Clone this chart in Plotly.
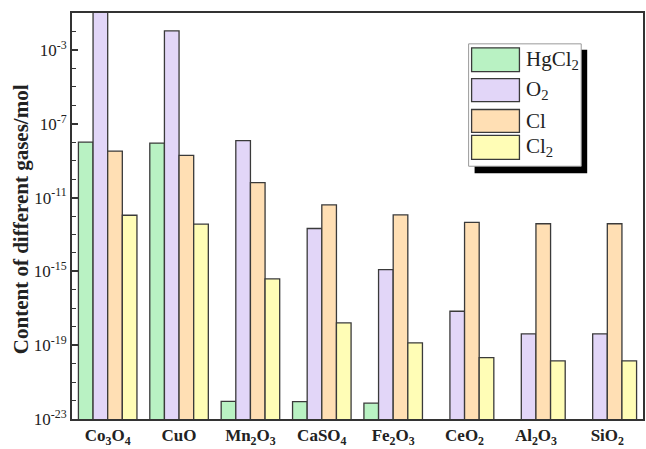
import plotly.graph_objects as go

# Sorbents and the gas-phase species computed for each (mol)
sorbents = ["Co<sub>3</sub>O<sub>4</sub>", "CuO", "Mn<sub>2</sub>O<sub>3</sub>", "CaSO<sub>4</sub>",
            "Fe<sub>2</sub>O<sub>3</sub>", "CeO<sub>2</sub>", "Al<sub>2</sub>O<sub>3</sub>", "SiO<sub>2</sub>"]
species = ["HgCl<sub>2</sub>", "O<sub>2</sub>", "Cl", "Cl<sub>2</sub>"]

hgcl2 = [1.0e-8, 9.0e-9, 9.0e-23, 8.7e-23, 7.2e-23, None, None, None]
o2 = [1.0, 1.07e-2, 1.2e-8, 2.1e-13, 1.23e-15, 6.9e-18, 4.1e-19, 4.1e-19]
cl = [3.3e-9, 1.95e-9, 6.5e-11, 4.0e-12, 1.15e-12, 4.5e-13, 3.8e-13, 3.8e-13]
cl2 = [1.1e-12, 3.6e-13, 3.9e-16, 1.6e-18, 1.35e-19, 2.1e-20, 1.4e-20, 1.4e-20]

fills = ["#B9F2C3", "#E2D6F8", "#FFDFB4", "#FFFDB6"]
edge = "#3a3a3a"
serif = "Liberation Serif, Times New Roman, serif"

W, H = 646, 449
L, R, T, B = 72, 1, 13, 28
PW, PH = W - L - R, H - T - B

fig = go.Figure()
for name, vals, color in zip(species, [hgcl2, o2, cl, cl2], fills):
    fig.add_trace(go.Bar(
        x=list(range(len(sorbents))), y=vals, name=name,
        marker=dict(color=color, line=dict(color=edge, width=1.3)),
        showlegend=False,
    ))

major = [-23, -19, -15, -11, -7, -3]
fig.update_layout(
    width=W, height=H,
    margin=dict(l=L, r=R, t=T, b=B),
    paper_bgcolor="white", plot_bgcolor="white",
    barmode="group", bargap=0.18, bargroupgap=0,
    font=dict(family=serif, color="#222"),
    xaxis=dict(
        range=[-0.5, len(sorbents) - 0.5],
        tickvals=list(range(len(sorbents))), ticktext=sorbents,
        tickfont=dict(size=17, family=serif, weight="bold", color="#222"),
        showline=True, linecolor="#333", linewidth=2, mirror=True,
        ticks="", showgrid=False, zeroline=False,
    ),
    yaxis=dict(
        type="log", range=[-23, -1],
        tickvals=[10.0 ** e for e in major],
        ticktext=[f"10<sup>{e}</sup>" for e in major],
        tickfont=dict(size=17, family=serif, color="#222"),
        ticks="inside", ticklen=6, tickwidth=1.5, tickcolor="#333",
        minor=dict(tickvals=[10.0 ** e for e in range(-23, 0)],
                   ticks="inside", ticklen=4, tickwidth=1.2, tickcolor="#333"),
        showline=True, linecolor="#333", linewidth=2, mirror=True,
        showgrid=False, zeroline=False,
    ),
)

# y-axis title
fig.add_annotation(
    x=(21 - L) / PW, y=(H - B - 220) / PH, xref="paper", yref="paper",
    text="<b>Content of different gases/mol</b>", textangle=-90,
    showarrow=False, font=dict(size=21, family=serif, color="#222"),
    xanchor="center", yanchor="middle",
)


def px(x):
    return (x - L) / PW


def py(y):
    return (H - B - y) / PH


# Legend box with drop shadow
fig.add_shape(type="rect", xref="paper", yref="paper",
              x0=px(476), x1=px(589), y0=py(174), y1=py(50),
              fillcolor="black", line=dict(width=0))
fig.add_shape(type="rect", xref="paper", yref="paper",
              x0=px(470), x1=px(583), y0=py(167), y1=py(44),
              fillcolor="white", line=dict(color="#999", width=1))
rows = [(48, 72), (79, 102), (110, 133), (136, 160)]
for (top, bot), name, color in zip(rows, species, fills):
    fig.add_shape(type="rect", xref="paper", yref="paper",
                  x0=px(473), x1=px(521), y0=py(bot), y1=py(top),
                  fillcolor=color, line=dict(color=edge, width=1.3))
    fig.add_annotation(x=px(526), y=py((top + bot) / 2), xref="paper", yref="paper",
                       text=name, showarrow=False, xanchor="left", yanchor="middle",
                       font=dict(size=21, family=serif, color="#222"))

fig.write_html("out.html")
